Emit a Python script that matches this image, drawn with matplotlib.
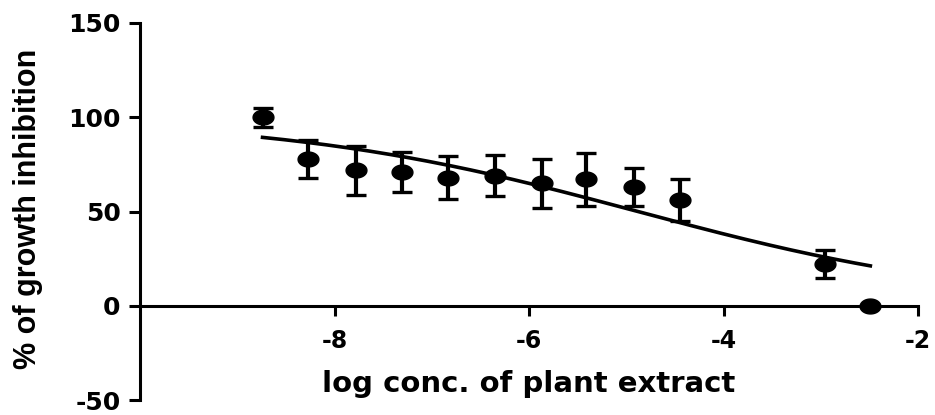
import numpy as np
import matplotlib
matplotlib.use("Agg")
import matplotlib.pyplot as plt
from matplotlib.path import Path

# ===== DATA =====
log_conc = [-8.74, -8.27, -7.78, -7.31, -6.83, -6.35, -5.87, -5.41, -4.92, -4.45, -2.96, -2.49]
inhibition = [100, 78, 72, 71, 68, 69, 65, 67, 63, 56, 22, 0]
sem = [5, 10, 13, 10.5, 11.5, 11, 13, 14, 10, 11, 7.5, 0]

# fitted dose-response curve (4PL)
fit_top = 100
fit_bottom = 0
fit_log_ic50 = -4.88
fit_hill = 0.239

y_ticks = [-50, 0, 50, 100, 150]
x_ticks = [-8, -6, -4, -2]

plt.rcParams['axes.unicode_minus'] = False

# ===== FIGURE =====
fig = plt.figure(figsize=(9.35, 4.15), dpi=100)
ax = fig.add_axes([140 / 935, 1 - 400 / 415, (918 - 140) / 935, 377 / 415])

# elliptical marker (reference is stretched horizontally)
t = np.linspace(0, 2 * np.pi, 60)
ellipse = Path(np.column_stack([1.4 * np.cos(t), np.sin(t)]), closed=True)

ax.errorbar(log_conc, inhibition, yerr=sem, fmt='none', ecolor='black',
            elinewidth=3.0, capsize=7, capthick=2.4, zorder=2)
ax.plot(log_conc, inhibition, linestyle='none', marker=ellipse,
        markersize=15, color='black', zorder=3, clip_on=False)

xs = np.linspace(log_conc[0], log_conc[-1], 200)
ys = fit_bottom + (fit_top - fit_bottom) / (1 + 10 ** ((xs - fit_log_ic50) * fit_hill))
ax.plot(xs, ys, color='black', linewidth=2.6, zorder=2)

# ===== AXES STYLE =====
ax.set_xlim(-10, -2)
ax.set_ylim(-50, 150)
ax.spines['top'].set_visible(False)
ax.spines['right'].set_visible(False)
ax.spines['bottom'].set_position(('data', 0))
for s in ('left', 'bottom'):
    ax.spines[s].set_linewidth(2.2)

ax.set_xticks(x_ticks)
ax.set_yticks(y_ticks)
ax.tick_params(axis='y', length=8, width=2.2, pad=6, labelsize=18)
ax.tick_params(axis='x', length=7, width=2.2, pad=10, labelsize=17)
for lab in ax.get_yticklabels() + ax.get_xticklabels():
    lab.set_fontweight('heavy')
    lab.set_family('DejaVu Sans')

ax.text(0.5, 0.021, "log conc. of plant extract", transform=ax.transAxes,
        ha='center', va='baseline', fontsize=21, fontweight='bold',
        family='DejaVu Sans')
fig.text(0.03, 0.496, "% of growth inhibition", rotation=90,
         ha='center', va='center', fontsize=22, fontweight='bold',
         family='Liberation Sans')

fig.savefig("out.png", dpi=100)
